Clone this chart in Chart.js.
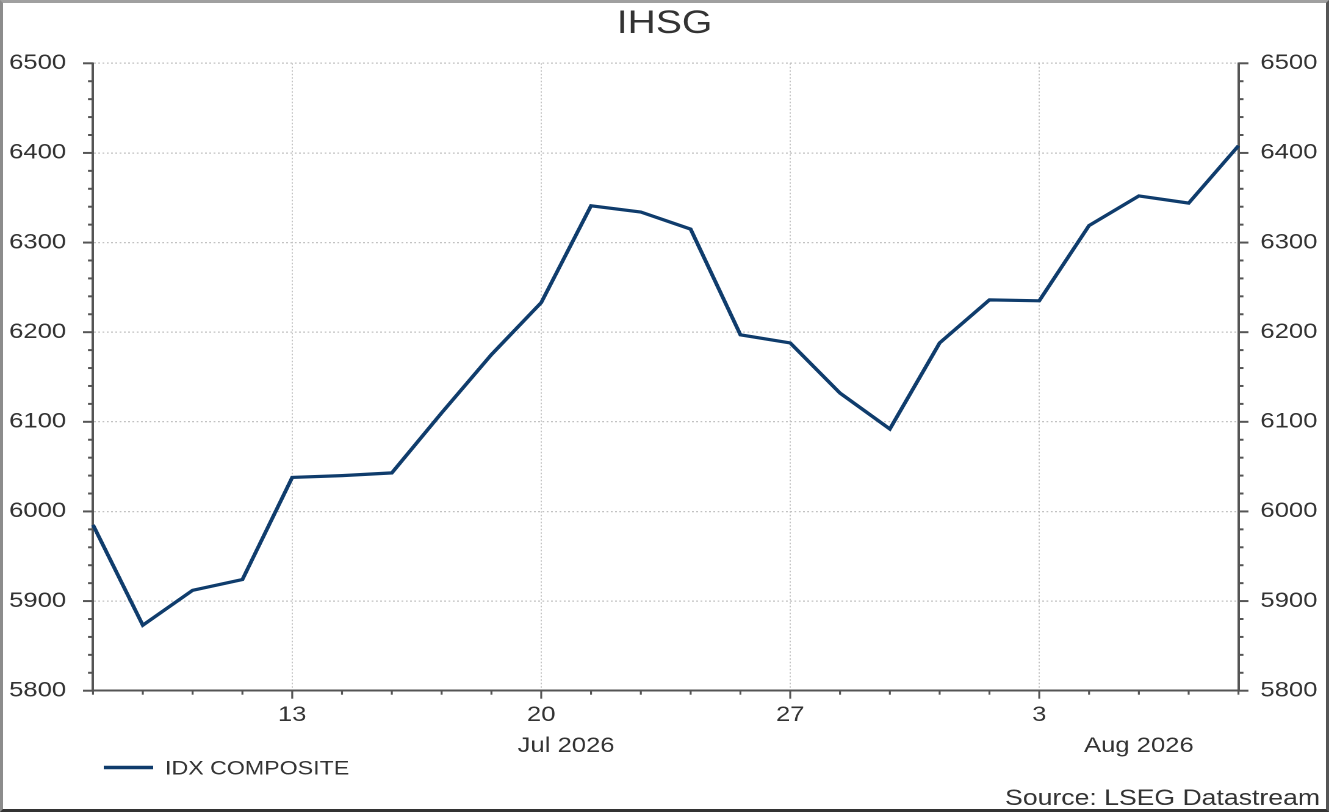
<!DOCTYPE html>
<html>
<head>
<meta charset="utf-8">
<script src="https://cdn.jsdelivr.net/npm/chart.js@4.4.1/dist/chart.umd.min.js"></script>
<style>
  html, body { margin: 0; padding: 0; background: #ffffff; }
  #page { position: relative; width: 1329px; height: 812px; overflow: hidden; background: #fff; }
  #stretch { position: absolute; left: 0; top: 0; width: 1089px; height: 812px; transform-origin: 0 0; }
  #frame { position: absolute; left: 0; top: 0; width: 1329px; height: 812px; box-sizing: border-box;
           border-style: solid; border-width: 3px 3px 3px 3px;
           border-color: #a0a0a0 #555555 #333333 #8c8c8c; pointer-events: none; }
</style>
</head>
<body>
<div id="page">
  <div id="stretch"><canvas id="c" width="1089" height="812"></canvas></div>
  <div id="frame"></div>
</div>
<script>
// ---------------- data ----------------
const chartTitle = 'IHSG';
const seriesName = 'IDX COMPOSITE';
const sourceText = 'Source: LSEG Datastream';

const dates = [
  '2026-07-07','2026-07-08','2026-07-09','2026-07-10',
  '2026-07-13','2026-07-14','2026-07-15','2026-07-16','2026-07-17',
  '2026-07-20','2026-07-21','2026-07-22','2026-07-23','2026-07-24',
  '2026-07-27','2026-07-28','2026-07-29','2026-07-30','2026-07-31',
  '2026-08-03','2026-08-04','2026-08-05','2026-08-06','2026-08-07'
];
const values = [
  5985, 5873, 5912, 5924,
  6038, 6040, 6043, 6110, 6175,
  6233, 6341, 6334, 6315, 6197,
  6188, 6132, 6092, 6188, 6236,
  6235, 6319, 6352, 6344, 6408
];

const xTickDates  = ['2026-07-13','2026-07-20','2026-07-27','2026-08-03'];
const xTickLabels = ['13','20','27','3'];
const monthKeys   = ['2026-07','2026-08'];
const monthLabels = ['Jul 2026','Aug 2026'];

const yMin = 5800, yMax = 6500, yMajorStep = 100, yMinorStep = 20;

// ---------------- style ----------------
const S = 1329 / 1089;               // horizontal stretch of the original picture
document.getElementById('stretch').style.transform = 'scaleX(' + S + ')';
const FONT = "'Liberation Sans', Arial, sans-serif";
const TEXT = '#333333';
const AXIS = '#555555';
const GRID = '#c2c2c2';
const LINE = '#0f3c6c';

const decor = {
  id: 'decor',
  afterDraw(chart) {
    const { ctx, chartArea: a, scales } = chart;
    const ys = scales.y, xs = scales.x;
    const seg = (x1, y1, x2, y2) => { ctx.beginPath(); ctx.moveTo(x1, y1); ctx.lineTo(x2, y2); ctx.stroke(); };
    ctx.save();
    ctx.strokeStyle = AXIS;
    ctx.lineWidth = 2;
    // y tick marks (major + minor) on both sides
    for (let v = yMin; v <= yMax; v += yMinorStep) {
      const py = ys.getPixelForValue(v);
      const len = (v % yMajorStep === 0) ? 8.2 : 4.1;
      seg(a.left - len, py, a.left, py);
      seg(a.right, py, a.right + len, py);
    }
    // x tick marks: every trading day, longer at week starts
    ctx.lineWidth = 1.6;
    dates.forEach((d, i) => {
      const px = xs.getPixelForValue(i);
      const len = xTickDates.includes(d) ? 8 : 4;
      seg(px, a.bottom, px, a.bottom + len);
    });
    // month labels
    ctx.fillStyle = TEXT;
    ctx.font = '21px ' + FONT;
    ctx.textAlign = 'center';
    ctx.textBaseline = 'alphabetic';
    monthKeys.forEach((mk, k) => {
      const first = dates.findIndex(d => d.startsWith(mk));
      const nextKey = monthKeys[k + 1];
      const nextFirst = nextKey ? dates.findIndex(d => d.startsWith(nextKey)) : -1;
      const start = xs.getPixelForValue(first);
      const end = nextFirst >= 0 ? xs.getPixelForValue(nextFirst) : a.right;
      ctx.fillText(monthLabels[k], (start + end) / 2, 752);
    });
    // legend
    ctx.strokeStyle = LINE;
    ctx.lineWidth = 3.5;
    seg(85, 767.5, 125.5, 767.5);
    ctx.font = '19px ' + FONT;
    ctx.textAlign = 'left';
    ctx.fillText(chart.data.datasets[0].label, 135.2, 774.5);
    // source
    ctx.font = '21.8px ' + FONT;
    ctx.textAlign = 'right';
    ctx.fillText(sourceText, 1081.6, 805);
    ctx.restore();
  }
};

const yTickCb = (v) => (v % yMajorStep === 0 ? String(v) : '');

new Chart(document.getElementById('c'), {
  type: 'line',
  data: {
    labels: dates,
    datasets: [{
      label: seriesName,
      data: values,
      borderColor: LINE,
      backgroundColor: LINE,
      borderWidth: 3.2,
      pointRadius: 0,
      tension: 0,
      fill: false,
      yAxisID: 'y'
    }]
  },
  options: {
    responsive: false,
    animation: false,
    devicePixelRatio: 2,
    layout: { padding: { top: 0, left: 0, right: 0, bottom: 0 } },
    plugins: {
      legend: { display: false },
      tooltip: { enabled: false },
      title: {
        display: true,
        text: chartTitle,
        color: TEXT,
        font: { family: FONT, size: 32, weight: 'normal' },
        padding: { top: 5, bottom: 19.9 }
      }
    },
    scales: {
      x: {
        type: 'category',
        offset: false,
        grid: {
          drawTicks: false,
          lineWidth: 1,
          color: (c) => (c.tick && xTickDates.includes(dates[c.index]) ? GRID : 'rgba(0,0,0,0)')
        },
        border: { display: true, color: AXIS, width: 2, dash: [1.5, 2] },
        ticks: {
          autoSkip: false, maxRotation: 0, minRotation: 0,
          padding: 12,
          color: TEXT,
          font: { family: FONT, size: 21 },
          callback: (v, i) => { const k = xTickDates.indexOf(dates[i]); return k >= 0 ? xTickLabels[k] : ''; }
        },
        afterFit: (s) => { s.height = 812 - 690.7; }
      },
      y: {
        position: 'left',
        min: yMin, max: yMax,
        grid: {
          drawTicks: false,
          lineWidth: 1.2,
          color: (c) => (c.tick && c.tick.value % yMajorStep === 0 ? GRID : 'rgba(0,0,0,0)')
        },
        border: { display: true, color: AXIS, width: 2, dash: [1.5, 2] },
        ticks: {
          stepSize: yMinorStep, autoSkip: false,
          padding: 22,
          color: TEXT,
          font: { family: FONT, size: 21 },
          callback: yTickCb
        },
        afterFit: (s) => { s.width = 76.2; }
      },
      y1: {
        position: 'right',
        min: yMin, max: yMax,
        grid: { display: false, drawTicks: false },
        border: { display: true, color: AXIS, width: 2 },
        ticks: {
          stepSize: yMinorStep, autoSkip: false,
          padding: 18,
          color: TEXT,
          font: { family: FONT, size: 21 },
          callback: yTickCb
        },
        afterFit: (s) => { s.width = 1089 - 1014.8; }
      }
    }
  },
  plugins: [decor]
});
</script>
</body>
</html>
